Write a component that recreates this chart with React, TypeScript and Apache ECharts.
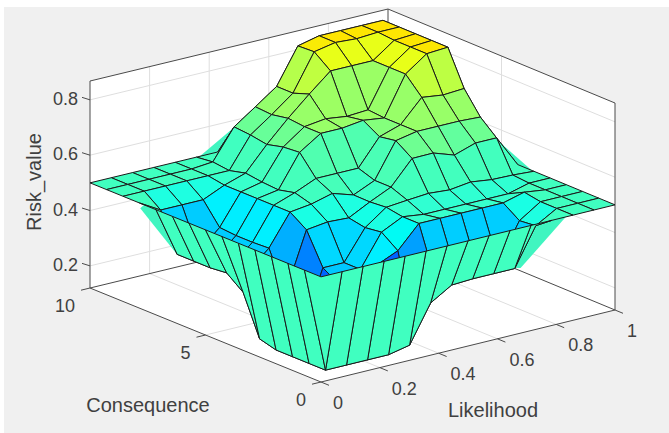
import React, { useEffect, useRef } from "react";
import * as echarts from "echarts";

const likelihoodTicks = [0, 0.2, 0.4, 0.6, 0.8, 1];
const likelihoodLabels = ["0", "0.2", "0.4", "0.6", "0.8", "1"];
const consequenceTicks = [0, 5, 10];
const consequenceLabels = ["0", "5", "10"];
const riskTicks = [0.2, 0.4, 0.6, 0.8];
const riskLabels = ["0.2", "0.4", "0.6", "0.8"];

// Risk_value: row = Likelihood step (0..1 in 14 steps), column = Consequence step (0..10 in 14 steps)
const riskRow0 = [.5,.5,.5,.5,.5,.5,.5,.5,.5,.5,.5,.5,.5,.5,.5];
const riskRow1 = [.5,.12,.12,.12,.12,.136,.28,.326,.32,.32,.32,.456,.5,.5,.5];
const riskRow2 = [.5,.12,.12,.12,.12,.12,.3,.31,.31,.31,.31,.456,.5,.5,.5];
const riskRow3 = [.5,.12,.12,.12,.12,.13,.24,.378,.375,.375,.38,.456,.5,.5,.5];
const riskRow4 = [.5,.12,.12,.12,.3,.337,.45,.49,.49,.49,.49,.49,.5,.5,.5];
const riskRow5 = [.5,.136,.12,.377,.337,.337,.46,.5,.517,.503,.507,.515,.5,.507,.5];
const riskRow6 = [.5,.27,.14,.41,.453,.445,.456,.52,.55,.62,.615,.6,.61,.615,.5];
const riskRow7 = [.5,.316,.31,.49,.49,.5,.495,.496,.55,.67,.67,.676,.665,.669,.5];
const riskRow8 = [.5,.32,.315,.49,.48,.507,.53,.53,.55,.67,.68,.745,.724,.724,.5];
const riskRow9 = [.5,.32,.315,.49,.48,.513,.615,.655,.645,.68,.67,.81,.855,.852,.5];
const riskRow10 = [.5,.32,.315,.49,.48,.507,.616,.67,.67,.67,.675,.81,.87,.87,.5];
const riskRow11 = [.5,.456,.45,.49,.48,.517,.59,.67,.75,.81,.81,.81,.865,.87,.5];
const riskRow12 = [.5,.5,.5,.51,.48,.507,.615,.67,.74,.865,.865,.865,.87,.87,.5];
const riskRow13 = [.5,.5,.5,.5,.5,.505,.615,.666,.745,.87,.87,.87,.87,.87,.5];
const riskRow14 = [.5,.5,.5,.5,.5,.5,.5,.5,.5,.5,.5,.5,.5,.5,.5];
const riskRows = [riskRow0,riskRow1,riskRow2,riskRow3,riskRow4,riskRow5,riskRow6,riskRow7,riskRow8,riskRow9,riskRow10,riskRow11,riskRow12,riskRow13,riskRow14];

// Edge-less backdrop sheet seen behind the surface
const sheetL = [.276,.204,.095,.166,.819,.914,.844,.775];
const sheetC = [7.24,7.96,9.05,8.34,1.81,.86,1.56,2.25];
const sheetZ = [.727,.606,.416,.252,.257,.467,.606,.716];

const colorLevels = [.12,.14,.25,.31,.32,.337,.378,.42,.456,.49,.5,.55,.62,.67,.745,.81,.87];
const colorValues = ["#0064ff","#00a0ff","#00b0ff","#00ccff","#00d0ff","#00d8ff","#00f0ff","#00fff0","#1effe1","#38ffcc","#40ffc0","#50ffb0","#70ff90","#98ff68","#c0ff40","#e8ff18","#ffe400"];

const Z_MIN = 0.12, Z_MAX = 0.868, Z_SCALE = 276.7;
const F = [321, 382], R = [615, 310], L0 = [90, 288], B = [388, 216];

function project(l: number, c: number, z: number): number[] {
  const u = l, v = c / 10;
  const x = (1-u)*(1-v)*F[0] + u*(1-v)*R[0] + (1-u)*v*L0[0] + u*v*B[0];
  const y = (1-u)*(1-v)*F[1] + u*(1-v)*R[1] + (1-u)*v*L0[1] + u*v*B[1];
  return [x, y - (z - Z_MIN) * Z_SCALE];
}
function hex(c: string) { return [1,3,5].map(k => parseInt(c.slice(k, k+2), 16)); }
function colorOf(z: number) {
  if (z <= colorLevels[0]) return colorValues[0];
  for (let k = 1; k < colorLevels.length; k++) {
    if (z <= colorLevels[k]) {
      const t = (z - colorLevels[k-1]) / (colorLevels[k] - colorLevels[k-1]);
      const a = hex(colorValues[k-1]), b = hex(colorValues[k]);
      return `rgb(${a.map((p, n) => Math.round(p + (b[n]-p)*t)).join(",")})`;
    }
  }
  return colorValues[colorValues.length-1];
}

type Seg = { p: number[][]; stroke: string; w: number };

function buildWalls(): number[][][] {
  return [[
    project(0,0,Z_MIN), project(1,0,Z_MIN), project(1,0,Z_MAX), project(1,10,Z_MAX), project(0,10,Z_MAX), project(0,10,Z_MIN),
  ]];
}
function buildLines(): Seg[] {
  const out: Seg[] = [];
  const grid = "#dedede", dark = "#4a4a4a";
  for (const t of riskTicks) {
    out.push({ p: [project(0,10,t), project(1,10,t), project(1,0,t)], stroke: grid, w: 1 });
  }
  for (const t of likelihoodTicks.slice(1,-1)) {
    out.push({ p: [project(t,0,Z_MIN), project(t,10,Z_MIN), project(t,10,Z_MAX)], stroke: grid, w: 1 });
  }
  for (const t of consequenceTicks.slice(1,-1)) {
    out.push({ p: [project(0,t,Z_MIN), project(1,t,Z_MIN), project(1,t,Z_MAX)], stroke: grid, w: 1 });
  }
  const box = (a: number[], b: number[]) => out.push({ p: [a, b], stroke: dark, w: 1 });
  box(project(0,0,Z_MIN), project(1,0,Z_MIN));
  box(project(0,0,Z_MIN), project(0,10,Z_MIN));
  box(project(1,10,Z_MIN), project(0,10,Z_MIN));
  box(project(1,10,Z_MIN), project(1,0,Z_MIN));
  box(project(0,10,Z_MIN), project(0,10,Z_MAX));
  box(project(1,0,Z_MIN), project(1,0,Z_MAX));
  box(project(1,10,Z_MIN), project(1,10,Z_MAX));
  box(project(0,10,Z_MAX), project(1,10,Z_MAX));
  box(project(1,10,Z_MAX), project(1,0,Z_MAX));
  for (const t of likelihoodTicks) { const a = project(t,0,Z_MIN); box(a, [a[0]+8, a[1]+3.3]); }
  for (const t of consequenceTicks) { const a = project(0,t,Z_MIN); box(a, [a[0]-9, a[1]+2.2]); }
  for (const t of riskTicks) { const a = project(0,10,t); box(a, [a[0]-8, a[1]-2.5]); }
  return out;
}
type Lbl = { text: string; x: number; y: number; align: string; size: number; rot?: number };
function buildLabels(): Lbl[] {
  const out: Lbl[] = [];
  likelihoodTicks.forEach((t, k) => { const a = project(t,0,Z_MIN); out.push({ text: likelihoodLabels[k], x: a[0]+12, y: a[1]+21, align: "left", size: 18 }); });
  consequenceTicks.forEach((t, k) => { const a = project(0,t,Z_MIN); out.push({ text: consequenceLabels[k], x: a[0]-15, y: a[1]+18, align: "right", size: 18 }); });
  riskTicks.forEach((t, k) => { const a = project(0,10,t); out.push({ text: riskLabels[k], x: a[0]-12, y: a[1]-1, align: "right", size: 18 }); });
  out.push({ text: "Consequence", x: 148, y: 405, align: "center", size: 20 });
  out.push({ text: "Likelihood", x: 493, y: 410, align: "center", size: 20 });
  out.push({ text: "Risk_value", x: 34, y: 182, align: "center", size: 20, rot: Math.PI/2 });
  return out;
}

export default function App() {
  const ref = useRef<HTMLDivElement>(null);
  useEffect(() => {
    document.body.style.margin = "0";
    const chart = echarts.init(ref.current!, null, { renderer: "svg", width: 669, height: 433 });
    const walls = buildWalls(), lines = buildLines(), labels = buildLabels();
    const n = riskRows.length;
    const cells: number[][] = [];
    for (let i = n-2; i >= 0; i--) for (let j = n-2; j >= 0; j--) cells.push([i, j]);
    const sheet = sheetL.map((l, k) => project(l, sheetC[k], sheetZ[k]));
    const idx = (a: unknown[]) => a.map((_, k) => [k]);
    const base = { type: "custom", coordinateSystem: "cartesian2d", silent: true, clip: false, animation: false };
    chart.setOption({
      animation: false,
      backgroundColor: "#ffffff",
      grid: { left: 0, right: 0, top: 0, bottom: 0 },
      xAxis: { type: "value", min: 0, max: 669, show: false },
      yAxis: { type: "value", min: 0, max: 433, inverse: true, show: false },
      series: [
        { ...base, data: [[0]], renderItem: (_p: any, api: any) => ({
            type: "rect",
            shape: (() => { const a = api.coord([4,7]), b = api.coord([669,433]); return { x: a[0], y: a[1], width: b[0]-a[0], height: b[1]-a[1] }; })(),
            style: { fill: "#f0f0f0" } }) },
        { ...base, data: idx(walls), renderItem: (_p: any, api: any) => ({
            type: "polygon", shape: { points: walls[api.value(0)].map((q: number[]) => api.coord(q)) }, style: { fill: "#ffffff" } }) },
        { ...base, data: idx(lines), renderItem: (_p: any, api: any) => { const s = lines[api.value(0)]; return {
            type: "polyline", shape: { points: s.p.map(q => api.coord(q)) }, style: { fill: "none", stroke: s.stroke, lineWidth: s.w } }; } },
        { ...base, data: [[0]], renderItem: (_p: any, api: any) => ({
            type: "polygon", shape: { points: sheet.map(q => api.coord(q)) }, style: { fill: "#40f5c0" } }) },
        { ...base, data: cells, renderItem: (_p: any, api: any) => {
            const i = api.value(0), j = api.value(1);
            const pt = (a: number, b: number) => api.coord(project(a/14, b*10/14, riskRows[a][b]));
            return { type: "polygon",
              shape: { points: [pt(i,j), pt(i+1,j), pt(i+1,j+1), pt(i,j+1)] },
              style: { fill: colorOf(riskRows[i][j]), stroke: "#1a1a1a", lineWidth: 1, lineJoin: "round" } };
          } },
        { ...base, data: idx(labels), renderItem: (_p: any, api: any) => { const t = labels[api.value(0)]; const c = api.coord([t.x, t.y]); return {
            type: "text", x: c[0], y: c[1], rotation: t.rot || 0,
            style: { text: t.text, x: 0, y: 0, align: t.align, verticalAlign: "middle", fill: "#404040", font: `${t.size}px "Liberation Sans", Arial, sans-serif` } }; } },
      ],
    });
    return () => chart.dispose();
  }, []);
  return <div ref={ref} style={{ position: "absolute", left: 0, top: 0, width: 669, height: 433 }} />;
}
